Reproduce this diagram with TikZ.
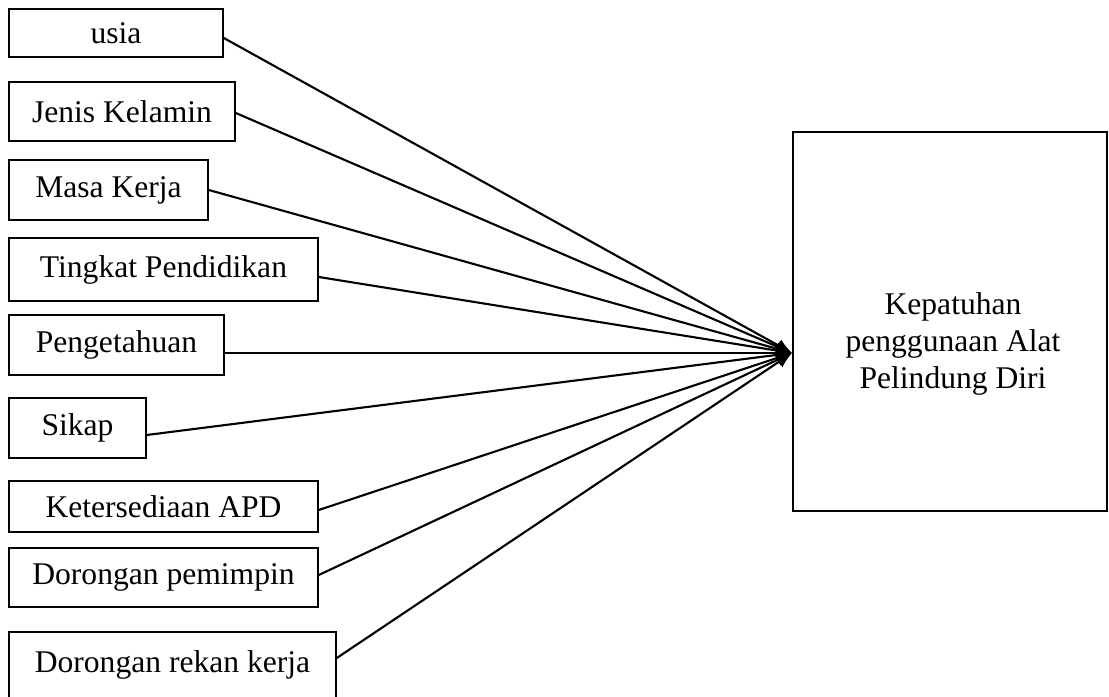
\documentclass[tikz,border=0pt]{standalone}
\usepackage{fontspec}
\setmainfont{Liberation Serif}
\usetikzlibrary{arrows.meta}
\tikzset{
	factor/.style 2 args={draw, rectangle, line width=0.6pt, minimum width=#1*0.38pt, minimum height=#2*0.38pt, inner sep=0pt, text centered, font=\fontsize{12pt}{14pt}\selectfont},
	link/.style={-{Latex[length=6pt,width=5pt]}, line width=0.8pt}
}
\begin{document}
\begin{tikzpicture}[x=0.38pt, y=-0.38pt]
			\useasboundingbox (0,0) rectangle (1109,697);
			
			%Factors
			\node (usia) at (116,33) [factor={214}{48}]{usia};
			\node (jenis) at (122,111.5) [factor={226}{59}]{Jenis Kelamin};
			\node (masa) at (108.5,190) [factor={199}{60}]{Masa Kerja};
			\node (tingkat) at (163.5,269.5) [factor={309}{63}]{Tingkat Pendidikan};
			\node (pengetahuan) at (116.5,345) [factor={215}{60}]{Pengetahuan};
			\node (sikap) at (77.5,428) [factor={137}{60}]{Sikap};
			\node (apd) at (163.5,506.5) [factor={309}{51}]{Ketersediaan APD};
			\node (pemimpin) at (163.5,577.5) [factor={309}{59}]{Dorongan pemimpin};
			\node (rekan) at (172.5,665) [factor={327}{66}]{Dorongan rekan kerja};
			
			%Compliance
			\node (kepatuhan) at (950,321.5) [factor={314}{379}]{};
			\node (kepatuhanText) at (953,344) [align=center, font=\fontsize{12pt}{14pt}\selectfont]{Kepatuhan\\penggunaan Alat\\Pelindung Diri};
			\coordinate (tip) at (792,353);
			
			%Arrows
			\foreach \f/\y in {usia/38, jenis/113, masa/190, tingkat/277, pengetahuan/353, sikap/435, apd/510, pemimpin/575, rekan/658}
			\draw[link] (\f.east |- 0,\y) -- (tip);
			
\end{tikzpicture}
\end{document}
